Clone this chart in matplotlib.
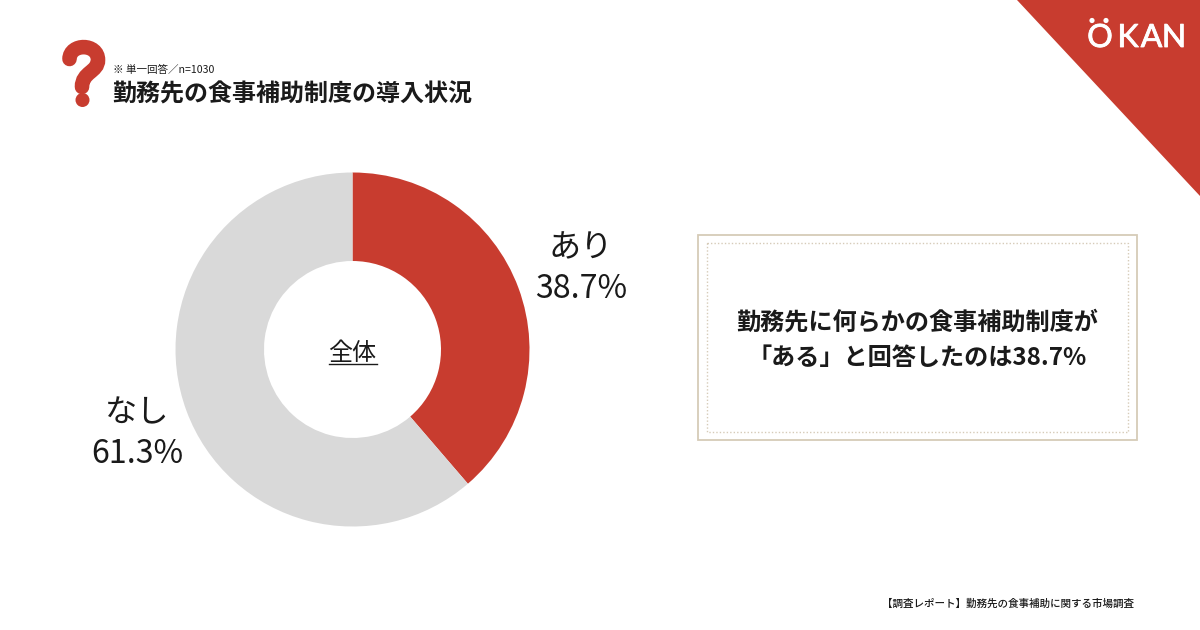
import matplotlib
matplotlib.use("Agg")
import matplotlib.pyplot as plt
import matplotlib.patheffects as pe
from matplotlib.patches import Polygon, Rectangle, Circle, PathPatch
from matplotlib.path import Path

plt.rcParams['font.family'] = ['Noto Sans CJK JP', 'DejaVu Sans']

# data
labels = ["あり", "なし"]
values = [38.7, 61.3]
colors = ["#C83C2F", "#D9D9D9"]

title = "勤務先の食事補助制度の導入状況"
note = "※ 単一回答／n=1030"
center_label = "全体"
message = ["勤務先に何らかの食事補助制度が", "「ある」と回答したのは38.7%"]
footer = "【調査レポート】勤務先の食事補助に関する市場調査"
logo_letters = ["O", "K", "A", "N"]

RED = "#C83C2F"
TEXT = "#1A1A1A"
GOLD = "#D6CBB8"

fig = plt.figure(figsize=(12, 6.3), dpi=100, facecolor="white")

# overlay in pixel coordinates (y down, same as the picture)
bg = fig.add_axes([0, 0, 1, 1])
bg.set_xlim(0, 1200)
bg.set_ylim(630, 0)
bg.axis("off")

# corner triangle and logo
bg.add_patch(Polygon([(1017, 0), (1200, 0), (1200, 196)], closed=True, color=RED, lw=0))
for letter, x in zip(logo_letters, [1100, 1128, 1151.5, 1174]):
    bg.text(x, 38, letter, color="white", fontsize=23, family="Lato",
            ha="center", va="center",
            path_effects=[pe.withStroke(linewidth=0.6, foreground="white")])
bg.add_patch(Circle((1092, 20.5), 2.6, color="white", lw=0))
bg.add_patch(Circle((1106, 20.5), 2.6, color="white", lw=0))

# question mark icon
hook = Path([(69.5, 59), (70, 43), (98, 43), (98, 60), (98, 72), (82, 72), (82, 87)],
            [Path.MOVETO, Path.CURVE4, Path.CURVE4, Path.CURVE4, Path.CURVE4, Path.CURVE4, Path.CURVE4])
bg.add_patch(PathPatch(hook, fill=False, ec=RED, lw=10.5, capstyle="round"))
bg.add_patch(Circle((82.5, 100), 7, color=RED, lw=0))

# heading
bg.text(113, 69.5, note, color=TEXT, fontsize=7.6, ha="left", va="center")
bg.text(112, 95, title, color=TEXT, fontsize=17.3, fontweight="bold", ha="left", va="center")

# donut
pie_ax = fig.add_axes([(352.5 - 177) / 1200, (630 - 349.5 - 177) / 630, 354 / 1200, 354 / 630])
pie_ax.pie(values, colors=colors, startangle=90, counterclock=False, radius=1,
           wedgeprops={"width": 0.5, "linewidth": 0})
pie_ax.set_xlim(-1, 1)
pie_ax.set_ylim(-1, 1)

bg.text(352.5, 352.5, center_label, color=TEXT, fontsize=17.3, ha="center", va="center")
bg.plot([329, 377], [363.5, 363.5], color=TEXT, lw=1)

bg.text(581, 248, labels[0], color=TEXT, fontsize=23.2, ha="center", va="center")
bg.text(581, 289, f"{values[0]}%", color=TEXT, fontsize=23.2, ha="center", va="center")
bg.text(137, 413, labels[1], color=TEXT, fontsize=23.2, ha="center", va="center")
bg.text(137, 454, f"{values[1]}%", color=TEXT, fontsize=23.2, ha="center", va="center")

# message box
bg.add_patch(Rectangle((698, 235), 439, 205, fill=False, ec=GOLD, lw=1.3))
bg.add_patch(Rectangle((707, 243), 421, 189, fill=False, ec=GOLD, lw=1, ls=(0, (1, 1.5))))
bg.text(917.5, 322, message[0], color=TEXT, fontsize=17.4, fontweight="bold", ha="center", va="center")
bg.text(917.5, 358, message[1], color=TEXT, fontsize=17.4, fontweight="bold", ha="center", va="center")

bg.text(1134, 604, footer, color=TEXT, fontsize=7.6, fontweight="medium", ha="right", va="center")

fig.savefig("out.png", dpi=100, facecolor="white")
